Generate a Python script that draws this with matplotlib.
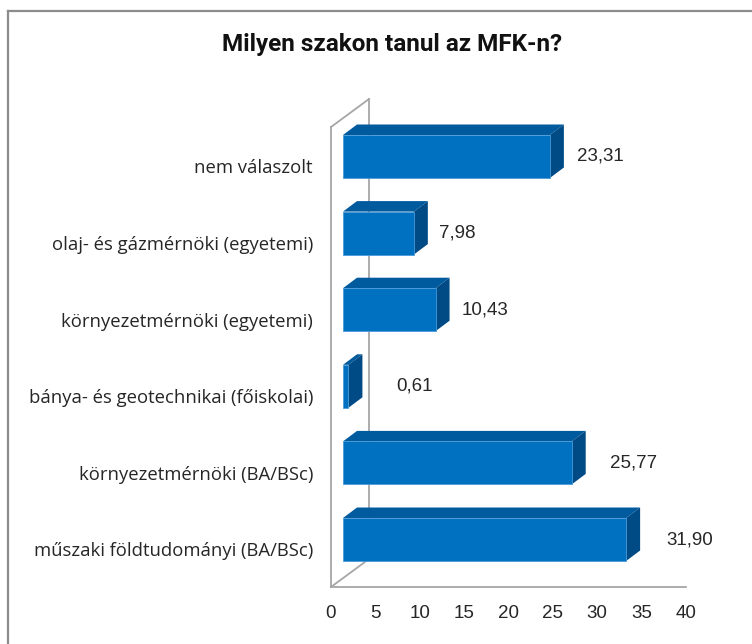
import numpy as np
import matplotlib
matplotlib.use("Agg")
import matplotlib.pyplot as plt
from matplotlib.patches import Polygon
from matplotlib.lines import Line2D

# bottom to top, as drawn
categories = ["műszaki földtudományi (BA/BSc)",
              "környezetmérnöki (BA/BSc)",
              "bánya- és geotechnikai (főiskolai)",
              "környezetmérnöki (egyetemi)",
              "olaj- és gázmérnöki (egyetemi)",
              "nem válaszolt"]
values = [31.90, 25.77, 0.61, 10.43, 7.98, 23.31]
xticks = [0, 5, 10, 15, 20, 25, 30, 35, 40]
title = "Milyen szakon tanul az MFK-n?"

# label gaps (px) after the bar end, as Excel left them
label_gap = [26, 24, 34, 12, 11, 13]

W, H = 752, 644
fig = plt.figure(figsize=(W/100, H/100), dpi=100)
ax = fig.add_axes([331/W, (H-587)/H, 355/W, 460/H])
ax.set_xlim(0, 40)
ax.set_ylim(-0.62, 5.385)
ax.set_facecolor("none")

# px -> data units
ux = 40/355
uy = (5.385+0.62)/460

grey = "#A6A6A6"
for s in ["top", "right"]:
    ax.spines[s].set_visible(False)
for s in ["left", "bottom"]:
    ax.spines[s].set_color(grey)
    ax.spines[s].set_linewidth(1.3)

# 3d wall edges
wdx, wdy = 38*ux, 28*uy
ylo, yhi = ax.get_ylim()
ax.plot([0, wdx], [yhi, yhi+wdy], color=grey, lw=1.3, clip_on=False, zorder=1)
ax.plot([wdx, wdx], [yhi+wdy, ylo+wdy], color=grey, lw=1.3, clip_on=False, zorder=1)
ax.plot([0, wdx], [ylo, ylo+wdy], color=grey, lw=1.3, clip_on=False, zorder=1)

front = "#0070C0"
topc = "#005A9E"
side = "#004A85"
x0 = 12*ux
hh = 21.5*uy
bdx, bdy = 14*ux, 10.5*uy
for i, v in enumerate(values):
    x1 = x0 + v
    ax.add_patch(Polygon([(x0, i+hh), (x1, i+hh), (x1+bdx, i+hh+bdy), (x0+bdx, i+hh+bdy)],
                         closed=True, fc=topc, ec="none", zorder=3, clip_on=False))
    ax.add_patch(Polygon([(x1, i-hh), (x1, i+hh), (x1+bdx, i+hh+bdy), (x1+bdx, i-hh+bdy)],
                         closed=True, fc=side, ec="none", zorder=3, clip_on=False))
    ax.add_patch(Polygon([(x0, i-hh), (x1, i-hh), (x1, i+hh), (x0, i+hh)],
                         closed=True, fc=front, ec="#4A9AD8", lw=0.6, zorder=4, clip_on=False))
    ax.annotate(f"{v:.2f}".replace(".", ","), (x1+bdx, i), xytext=(label_gap[i], 0),
                textcoords="offset pixels", ha="left", va="center",
                fontsize=13.5, family="Liberation Sans", color="#262626")

ax.set_xticks(xticks)
ax.set_xticklabels([str(t) for t in xticks], family="Liberation Sans", fontsize=13.5, color="#262626")
ax.tick_params(axis="x", length=0, pad=13)
ax.set_yticks(np.arange(len(categories)) - 0.13)
ax.set_yticklabels(categories, family="Open Sans", fontsize=13.3, color="#262626")
ax.tick_params(axis="y", length=0, pad=13)

fig.text(392/W, 1-45/H, title, ha="center", va="center",
         fontsize=17.5, fontweight="bold", family="Roboto", color="#111111")

# chart frame (clipped at right and bottom)
fig.add_artist(Line2D([8/W, 8/W], [0, 1-11/H], color="#8C8C8C", lw=1.6))
fig.add_artist(Line2D([8/W, 1], [1-11/H, 1-11/H], color="#8C8C8C", lw=1.6))

fig.savefig("out.png", dpi=100)
